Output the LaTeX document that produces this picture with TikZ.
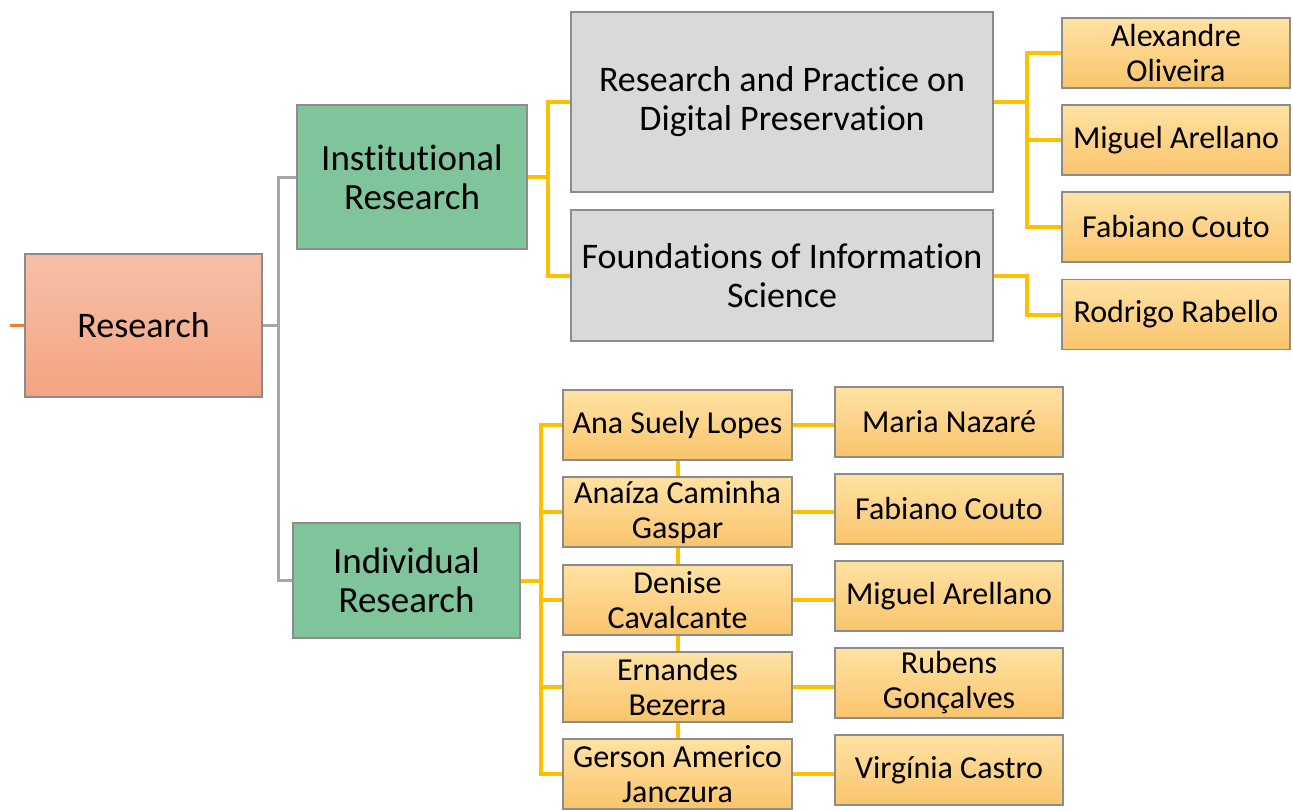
\documentclass[tikz,border=0pt]{standalone}
\usepackage{fontspec}
\setmainfont[Ligatures=NoCommon]{Carlito}
\definecolor{bordergray}{HTML}{8C8C8C}
\definecolor{ylw}{HTML}{FFC000}
\definecolor{gln}{HTML}{A6A6A6}
\definecolor{orng}{HTML}{ED7D31}
\definecolor{rtop}{HTML}{F6C0A8}
\definecolor{rbot}{HTML}{F4A482}
\definecolor{grn}{HTML}{80C49B}
\definecolor{gry}{HTML}{D9D9D9}
\definecolor{ytop}{HTML}{FFE2A3}
\definecolor{ybot}{HTML}{F9C46C}
\tikzset{
  box/.style={draw=bordergray, line width=1.5pt, inner sep=0pt, align=center, text=black},
  rootbox/.style={box, top color=rtop, bottom color=rbot, font=\fontsize{36}{40}\selectfont},
  greenbox/.style={box, fill=grn, font=\fontsize{37}{39}\selectfont},
  graybox/.style={box, fill=gry, font=\fontsize{36}{39}\selectfont},
  namebox/.style={box, top color=ytop, bottom color=ybot, font=\fontsize{32}{35}\selectfont, minimum width=228pt, minimum height=70pt},
  yline/.style={draw=ylw, line width=4pt},
  gline/.style={draw=gln, line width=3pt},
  oline/.style={draw=orng, line width=3pt}
}
\begin{document}
\begin{tikzpicture}[x=1pt,y=-1pt]
\useasboundingbox (0,0) rectangle (1293,811);
% main nodes
\node[rootbox, minimum width=237pt, minimum height=143pt] (root) at (143.5,325.5) {Research};
\node[greenbox, minimum width=230pt, minimum height=144pt] (inst) at (412,177) {Institutional\\Research};
\node[greenbox, minimum width=227pt, minimum height=115pt] (indiv) at (406.5,580.5) {Individual\\Research};
\node[graybox, minimum width=422pt, minimum height=180pt] (g1) at (782,102) {Research and Practice on\\Digital Preservation};
\node[graybox, minimum width=422pt, minimum height=131pt] (g2) at (782,275.5) {Foundations of Information\\Science};
% right column (institutional)
\node[namebox] (a1) at (1176,53) {Alexandre\\Oliveira};
\node[namebox] (a2) at (1176,140) {Miguel Arellano};
\node[namebox] (a3) at (1176,227) {Fabiano Couto};
\node[namebox] (a4) at (1176,314.5) {Rodrigo Rabello};
% individual column
\node[namebox, minimum width=229pt] (b1) at (677.5,425) {Ana Suely Lopes};
\node[namebox, minimum width=229pt] (b2) at (677.5,512) {Anaíza Caminha\\Gaspar};
\node[namebox, minimum width=229pt] (b3) at (677.5,600) {Denise\\Cavalcante};
\node[namebox, minimum width=229pt] (b4) at (677.5,687) {Ernandes\\Bezerra};
\node[namebox, minimum width=229pt] (b5) at (677.5,774) {Gerson Americo\\Janczura};
% advisors
\node[namebox] (c1) at (949,422) {Maria Nazaré};
\node[namebox] (c2) at (949,509) {Fabiano Couto};
\node[namebox] (c3) at (949,596) {Miguel Arellano};
\node[namebox] (c4) at (949,683) {Rubens\\Gonçalves};
\node[namebox] (c5) at (949,770) {Virgínia Castro};
% connectors
\coordinate (stub) at (10,325.5);
\draw[oline] (stub) -- (root.west);
\coordinate (gj) at (278,325.5);
\draw[gline] (root.east) -- (gj);
\draw[gline] (inst.west) -| (gj) |- (indiv.west);
\coordinate (yj1) at (548,177);
\draw[yline] (inst.east) -- (yj1);
\draw[yline] (g1.west) -| (yj1) |- (g2.west);
\coordinate (yj2) at (1027,102);
\draw[yline] (g1.east) -- (yj2);
\draw[yline] (a1.west) -| (yj2) |- (a3.west);
\draw[yline] (a2.west) -- (a2.west -| yj2);
\coordinate (yj4) at (1027,275.5);
\draw[yline] (g2.east) -- (yj4) |- (a4.west);
\coordinate (yj3) at (541,580.5);
\draw[yline] (indiv.east) -- (yj3);
\draw[yline] (b1.west) -| (yj3) |- (b5.west);
\draw[yline] (b2.west) -- (b2.west -| yj3);
\draw[yline] (b3.west) -- (b3.west -| yj3);
\draw[yline] (b4.west) -- (b4.west -| yj3);
\draw[yline] (b1.south) -- (b2.north);
\draw[yline] (b2.south) -- (b3.north);
\draw[yline] (b3.south) -- (b4.north);
\draw[yline] (b4.south) -- (b5.north);
\draw[yline] (b1.east) -- (b1.east -| c1.west);
\draw[yline] (b2.east) -- (b2.east -| c2.west);
\draw[yline] (b3.east) -- (b3.east -| c3.west);
\draw[yline] (b4.east) -- (b4.east -| c4.west);
\draw[yline] (b5.east) -- (b5.east -| c5.west);
\end{tikzpicture}
\end{document}
